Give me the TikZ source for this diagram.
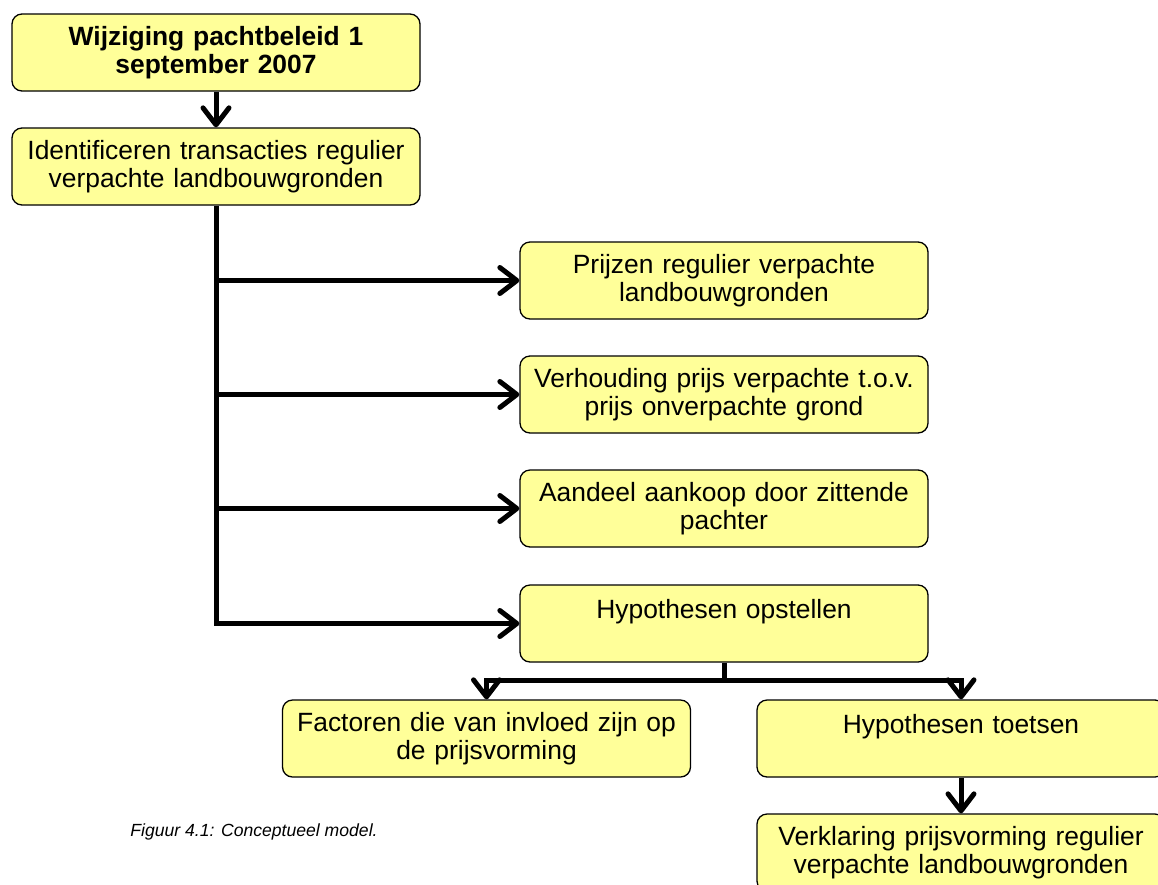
\documentclass[tikz,border=0pt]{standalone}
\usepackage{fontspec}
\setmainfont{Liberation Sans}
\usetikzlibrary{arrows.meta}
\definecolor{boxfill}{RGB}{255,255,153}
\tikzset{
  box/.style={draw=black, line width=1.3pt, fill=boxfill, rounded corners=10pt,
    minimum width=408pt, minimum height=77pt, text width=404pt, align=center,
    inner sep=2pt, font=\fontsize{26.4}{28.5}\selectfont},
  conn/.style={line width=5pt, -{Straight Barb[length=17pt,width=26pt,round]}},
  plain/.style={line width=5pt},
}
\begin{document}
\begin{tikzpicture}[x=1pt,y=-1pt]
\useasboundingbox (0,0) rectangle (1158,884);
\clip (0,0) rectangle (1158,884);
\node[box, font=\bfseries\fontsize{26.4}{28.5}\selectfont] (wijz) at (216,52.5) {Wijziging pachtbeleid 1\\september 2007};
\node[box] (ident) at (216,166.5) {Identificeren transacties regulier\\verpachte landbouwgronden};
\node[box] (prijz) at (724,280.5) {Prijzen regulier verpachte\\landbouwgronden};
\node[box] (verh) at (724,394.5) {Verhouding prijs verpachte t.o.v.\\prijs onverpachte grond};
\node[box] (aand) at (724,508.5) {Aandeel aankoop door zittende\\pachter};
\node[box] (hyp) at (724,623.5) {Hypothesen opstellen\\\mbox{}};
\node[box] (fact) at (486.5,738.5) {Factoren die van invloed zijn op\\de prijsvorming};
\node[box] (toet) at (961,738.5) {Hypothesen toetsen\\\mbox{}};
\node[box] (verk) at (961,852.5) {Verklaring prijsvorming regulier\\verpachte landbouwgronden};
\node[font=\itshape\fontsize{17.6}{21}\selectfont] (cap) at (254,832) {Figuur 4.1: Conceptueel model.};
\coordinate (split) at (724,680);
\draw[conn] (wijz.south) -- (ident.north);
\draw[conn] (ident.south) -- (ident.south |- hyp.west) -- (hyp.west);
\draw[conn] (ident.south |- prijz.west) -- (prijz.west);
\draw[conn] (ident.south |- verh.west) -- (verh.west);
\draw[conn] (ident.south |- aand.west) -- (aand.west);
\draw[plain] (hyp.south) -- (split);
\draw[conn] (split) -| (fact.north);
\draw[conn] (split) -| (toet.north);
\draw[conn] (toet.south) -- (verk.north);
\end{tikzpicture}
\end{document}
